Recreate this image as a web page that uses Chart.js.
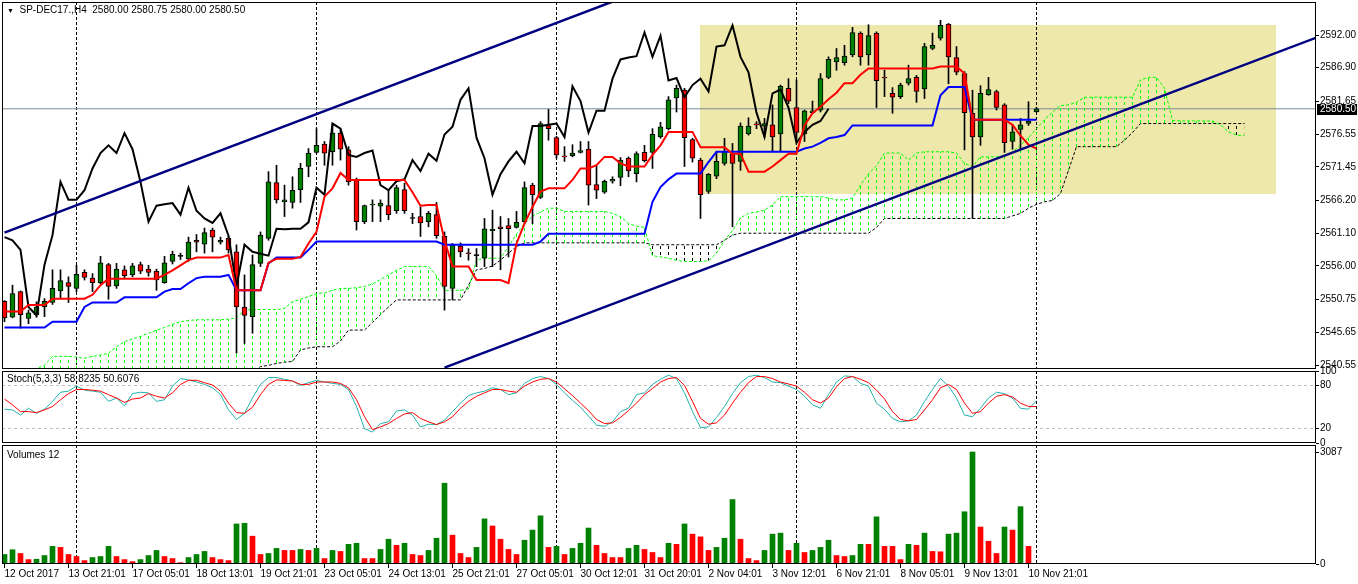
<!DOCTYPE html>
<html>
<head>
<meta charset="utf-8">
<title>SP-DEC17.,H4</title>
<script src="https://cdn.jsdelivr.net/npm/chart.js@4.4.1/dist/chart.umd.min.js"></script>
<style>
body{margin:0;background:#fff;width:1358px;height:584px;overflow:hidden;position:relative;font-family:"Liberation Sans",Arial,sans-serif}
canvas{position:absolute;left:0}
.lbl{position:absolute;font-size:10px;line-height:12px;color:#000;white-space:pre}
</style>
</head>
<body>
<canvas id="main" width="1358" height="372" style="top:0"></canvas>
<canvas id="stoch" width="1358" height="90" style="top:362px"></canvas>
<canvas id="vol" width="1358" height="144" style="top:440px"></canvas>
<div class="lbl" style="left:7px;top:3.5px"><span style="font-size:7px">&#9660;</span>  SP-DEC17.,H4  2580.00 2580.75 2580.00 2580.50</div>
<div class="lbl" style="left:7px;top:372.5px">Stoch(5,3,3) 58.8235 50.6076</div>
<div class="lbl" style="left:7px;top:449px">Volumes 12</div>
<script>
// H4 bars, 12 Oct 2017 .. 10 Nov 2017 21:01
const openP = [
  2550.5,2548.0,2552.0,2547.8,2548.4,2549.6,2550.3,2552.1,2553.4,2552.5,
  2555.0,2554.1,2553.4,2556.2,2552.9,2555.4,2554.6,2556.2,2555.5,2555.2,
  2553.4,2556.7,2557.5,2557.1,2560.0,2559.4,2561.6,2559.7,2560.3,2558.2,
  2549.6,2548.1,2556.4,2560.3,2569.0,2566.0,2565.9,2567.9,2571.5,2573.7,
  2575.0,2573.8,2576.7,2574.1,2569.4,2562.9,2565.5,2565.3,2565.4,2564.6,
  2567.9,2563.4,2563.7,2562.9,2564.0,2560.6,2552.5,2559.1,2558.0,2557.6,
  2557.2,2561.5,2562.1,2562.3,2562.0,2562.9,2568.6,2566.7,2577.9,2576.0,
  2573.1,2573.2,2573.7,2574.2,2568.7,2567.5,2569.2,2569.8,2572.8,2570.4,
  2573.7,2573.7,2576.1,2577.4,2582.2,2583.4,2575.7,2572.5,2567.6,2570.0,
  2572.0,2573.5,2572.3,2576.6,2578.1,2577.8,2578.0,2576.6,2583.7,2580.7,
  2576.6,2579.9,2580.3,2585.4,2587.8,2587.7,2588.9,2592.3,2588.9,2592.3,
  2585.4,2582.9,2582.4,2584.5,2585.4,2583.6,2589.9,2591.5,2593.7,2588.5,
  2586.0,2579.8,2576.1,2582.7,2583.2,2581.1,2575.4,2577.3,2578.2,2580.00
];
const highP = [
  2550.6,2553.0,2552.1,2549.1,2550.4,2550.9,2555.4,2555.4,2554.3,2556.1,
  2555.4,2554.8,2557.5,2556.4,2556.4,2556.0,2556.4,2556.6,2556.1,2555.5,
  2557.5,2558.3,2558.0,2560.5,2560.9,2561.9,2561.9,2560.5,2560.6,2559.3,
  2554.6,2557.7,2561.3,2570.7,2571.7,2568.6,2569.9,2572.0,2574.3,2577.4,
  2575.4,2578.2,2577.2,2574.6,2569.7,2565.5,2566.3,2566.3,2567.8,2568.6,
  2568.9,2564.2,2565.2,2564.5,2565.9,2561.3,2559.5,2559.6,2558.7,2558.7,
  2563.4,2564.7,2563.7,2563.4,2564.5,2569.1,2568.9,2578.5,2580.4,2576.2,
  2574.6,2574.9,2575.4,2575.4,2571.6,2569.4,2569.9,2572.9,2573.0,2573.8,
  2574.8,2577.4,2578.4,2582.4,2584.2,2583.7,2575.9,2572.8,2570.4,2573.8,
  2575.9,2575.1,2578.3,2579.1,2578.5,2579.0,2581.1,2584.2,2585.2,2585.0,
  2580.3,2581.7,2586.0,2588.6,2589.9,2590.4,2593.2,2592.5,2593.6,2592.5,
  2586.5,2583.8,2584.5,2587.3,2585.7,2590.7,2592.3,2594.3,2593.8,2590.2,
  2586.3,2583.4,2584.1,2585.4,2583.4,2581.3,2577.9,2579.0,2581.6,2580.75
];
const lowP = [
  2547.3,2547.9,2546.3,2547.0,2548.0,2548.1,2550.0,2550.9,2550.3,2552.0,
  2553.8,2552.0,2553.2,2550.8,2552.5,2554.0,2554.3,2554.8,2554.4,2552.2,
  2553.3,2556.3,2557.0,2556.7,2558.2,2558.0,2558.2,2559.4,2558.0,2542.4,
  2543.9,2545.5,2555.9,2560.0,2565.8,2563.7,2565.0,2565.9,2569.9,2573.6,
  2571.7,2571.7,2572.5,2568.6,2561.6,2562.6,2562.9,2562.9,2563.2,2564.2,
  2564.2,2562.6,2560.6,2562.1,2560.3,2549.1,2550.7,2557.4,2556.9,2555.9,
  2555.9,2555.9,2555.4,2557.4,2561.9,2562.6,2562.6,2566.5,2575.6,2572.8,
  2572.3,2573.0,2573.6,2565.5,2566.5,2567.3,2568.9,2568.5,2569.9,2569.1,
  2572.2,2571.2,2575.9,2577.2,2580.0,2571.5,2572.2,2563.4,2567.3,2569.6,
  2571.7,2562.1,2570.9,2576.4,2577.4,2576.1,2573.8,2573.8,2581.3,2575.4,
  2575.4,2579.8,2580.0,2585.2,2586.5,2587.3,2588.6,2587.3,2587.3,2580.7,
  2582.4,2579.8,2582.1,2584.2,2581.5,2582.1,2589.7,2591.2,2584.4,2585.8,
  2574.1,2563.4,2574.8,2582.6,2580.3,2573.7,2574.2,2574.2,2577.9,2580.00
];
const closeP = [
  2547.9,2551.7,2548.4,2548.7,2549.6,2550.5,2552.5,2553.7,2552.8,2554.7,
  2554.2,2553.4,2556.5,2552.8,2555.5,2554.5,2556.0,2555.2,2555.0,2553.8,
  2556.5,2557.8,2557.5,2559.7,2559.7,2561.2,2560.5,2560.0,2558.5,2549.6,
  2548.3,2556.2,2560.8,2569.1,2566.3,2566.3,2567.8,2571.2,2573.6,2574.8,
  2573.6,2576.7,2574.2,2569.1,2562.9,2565.4,2565.6,2565.8,2564.0,2568.2,
  2564.6,2563.4,2562.7,2564.2,2560.7,2552.8,2559.3,2558.2,2557.9,2557.6,
  2561.8,2561.7,2561.8,2561.8,2562.8,2568.2,2567.1,2578.2,2577.4,2573.3,
  2573.0,2573.6,2574.0,2568.6,2567.8,2569.2,2569.5,2572.5,2570.8,2573.5,
  2572.4,2576.5,2577.7,2581.9,2583.7,2576.0,2572.8,2567.1,2570.3,2572.3,
  2573.8,2572.0,2577.8,2577.8,2578.0,2578.2,2576.1,2584.0,2581.7,2576.8,
  2580.2,2580.2,2585.2,2588.2,2588.5,2588.7,2592.4,2588.6,2591.9,2584.9,
  2585.3,2582.3,2584.2,2585.2,2583.2,2590.2,2590.4,2593.5,2588.6,2586.2,
  2579.9,2576.1,2582.9,2583.5,2580.7,2575.2,2576.9,2578.0,2578.6,2580.50
];
const volumes = [
  262,393,290,122,131,234,486,458,262,206,
  94,178,206,486,206,122,65,122,234,374,
  206,150,37,178,262,346,178,122,94,1104,
  1122,767,262,290,430,374,374,402,374,430,
  150,374,346,542,571,150,150,402,683,514,
  571,262,234,374,711,2226,795,290,178,458,
  1244,1048,683,402,262,655,935,1328,458,486,
  262,430,571,991,514,290,178,178,430,514,
  402,318,178,571,542,1104,823,748,374,458,
  711,1777,683,150,94,374,823,851,374,571,
  318,374,458,655,234,206,234,542,542,1300,
  486,486,122,542,514,851,346,337,823,851,
  1440,3087,1019,627,290,1019,935,1581,486,19
];
// Ichimoku lines
const tenkan = [
  2548.9,2548.9,2548.9,2549.9,2549.9,2549.9,2550.9,2550.9,2550.9,2550.9,
  2550.9,2551.5,2553.0,2554.0,2554.0,2554.0,2554.0,2554.0,2554.0,2554.0,
  2554.6,2555.3,2556.1,2556.9,2557.3,2557.3,2557.3,2557.3,2557.7,2552.2,
  2552.2,2552.2,2552.2,2556.5,2557.1,2557.1,2557.1,2557.4,2559.5,2561.3,
  2566.8,2568.1,2570.5,2569.4,2569.4,2569.4,2569.4,2569.4,2569.4,2569.4,
  2569.4,2567.5,2565.4,2565.5,2565.5,2560.0,2555.9,2555.9,2555.9,2553.8,
  2553.8,2553.8,2553.8,2553.3,2559.5,2562.6,2565.2,2567.6,2568.1,2568.1,
  2568.1,2569.4,2571.2,2571.2,2571.7,2573.0,2573.0,2572.0,2571.5,2571.5,
  2571.5,2573.3,2574.8,2576.9,2576.9,2576.9,2576.9,2574.5,2574.5,2574.5,
  2574.5,2573.5,2573.5,2570.7,2570.7,2570.7,2571.5,2572.5,2573.5,2573.5,
  2577.9,2579.8,2580.8,2582.0,2583.0,2584.5,2584.5,2585.8,2586.8,2586.8,
  2586.8,2586.8,2586.8,2586.8,2586.8,2586.8,2586.8,2587.1,2587.1,2587.1,
  2586.0,2578.8,2578.8,2578.8,2578.8,2578.8,2578.0,2576.3,2574.9,2574.3
];
const kijun = [
  2546.4,2546.4,2546.4,2546.4,2546.4,2546.4,2547.3,2547.3,2547.3,2547.3,
  2549.6,2550.3,2550.3,2550.3,2550.3,2551.1,2551.1,2551.1,2551.1,2551.1,
  2552.0,2552.4,2552.4,2553.3,2554.1,2554.3,2554.3,2554.3,2554.6,2552.2,
  2552.2,2552.2,2552.2,2556.4,2557.3,2557.3,2557.3,2557.3,2558.5,2559.8,
  2559.8,2559.8,2559.8,2559.8,2559.8,2559.8,2559.8,2559.8,2559.8,2559.8,
  2559.8,2559.8,2559.8,2559.8,2559.8,2559.3,2559.3,2559.3,2559.3,2559.3,
  2559.3,2559.3,2559.3,2559.3,2559.3,2559.3,2559.3,2559.8,2561.0,2561.0,
  2561.0,2561.0,2561.0,2561.0,2561.0,2561.0,2561.0,2561.0,2561.0,2561.0,
  2561.0,2566.0,2568.3,2569.5,2570.4,2570.4,2570.4,2570.4,2572.2,2573.8,
  2573.8,2573.8,2573.8,2573.8,2573.8,2573.8,2573.8,2573.8,2573.8,2573.8,
  2574.3,2574.6,2575.2,2575.9,2576.1,2576.4,2577.9,2577.9,2577.9,2577.9,
  2577.9,2577.9,2577.9,2577.9,2577.9,2577.9,2577.9,2582.6,2583.9,2583.9,
  2583.9,2578.8,2578.8,2578.8,2578.8,2578.8,2578.8,2578.8,2578.8,2578.8
];
// Senkou spans, shifted 26 bars ahead (156 points)
const spanA = [
  2539.0,2539.2,2539.5,2539.8,2540.0,2540.5,2541.9,2541.9,2541.9,2541.8,
  2541.6,2541.9,2542.1,2542.4,2543.4,2544.2,2544.6,2545.0,2545.5,2546.0,
  2546.4,2546.9,2547.3,2547.5,2547.6,2547.6,2547.6,2547.6,2547.7,2547.9,
  2549.1,2549.2,2549.2,2549.2,2549.2,2549.4,2550.4,2550.8,2551.2,2551.7,
  2551.8,2552.2,2552.5,2552.5,2552.6,2552.8,2553.2,2553.9,2554.6,2555.3,
  2555.9,2555.9,2555.9,2555.9,2554.5,2552.2,2552.2,2552.2,2552.4,2556.9,
  2557.2,2557.2,2557.2,2559.0,2561.0,2562.6,2563.8,2564.4,2565.0,2565.0,
  2564.5,2564.5,2564.5,2564.5,2564.5,2564.5,2564.2,2563.7,2562.6,2562.2,
  2562.0,2557.6,2557.4,2557.2,2556.9,2556.7,2556.7,2556.7,2556.8,2558.0,
  2560.0,2561.5,2563.5,2564.2,2564.4,2564.7,2565.5,2566.8,2566.8,2566.8,
  2566.8,2566.8,2566.8,2566.6,2566.3,2566.3,2566.6,2568.6,2570.4,2571.6,
  2573.6,2573.6,2573.6,2572.5,2573.6,2573.8,2573.8,2573.8,2573.8,2573.6,
  2572.0,2571.5,2573.0,2573.0,2573.0,2573.2,2573.8,2574.8,2576.0,2577.4,
  2578.8,2580.0,2581.0,2581.1,2581.5,2582.3,2582.3,2582.3,2582.3,2582.3,
  2582.3,2582.3,2585.0,2585.4,2585.4,2583.7,2578.7,2578.6,2578.6,2578.6,
  2578.6,2578.6,2578.0,2576.9,2576.4,2576.3
];
const spanB = [
  2536.0,2536.0,2536.0,2536.0,2536.0,2536.0,2536.0,2536.0,2536.0,2536.0,
  2536.0,2537.0,2537.0,2537.0,2537.0,2537.0,2537.0,2537.0,2537.0,2537.0,
  2537.0,2538.5,2538.5,2538.5,2538.5,2538.5,2538.5,2538.5,2538.5,2539.5,
  2539.5,2539.5,2540.3,2540.5,2540.8,2541.0,2541.1,2542.9,2543.2,2543.4,
  2543.4,2543.4,2544.3,2546.0,2546.0,2546.0,2547.2,2548.4,2549.6,2550.7,
  2550.7,2550.7,2550.7,2550.7,2550.7,2550.7,2550.7,2550.7,2553.0,2555.4,
  2555.6,2556.0,2556.9,2558.0,2559.0,2559.6,2559.6,2559.6,2559.6,2559.6,
  2559.6,2559.6,2559.6,2559.6,2559.6,2559.6,2559.6,2559.6,2559.6,2559.6,
  2559.6,2559.3,2559.3,2559.3,2559.3,2559.3,2559.3,2559.3,2559.3,2559.3,
  2560.0,2560.8,2561.1,2561.1,2561.1,2561.1,2561.1,2561.1,2561.1,2561.1,
  2561.1,2561.1,2561.1,2561.1,2561.1,2561.1,2561.1,2561.1,2561.1,2562.0,
  2563.4,2563.4,2563.4,2563.4,2563.4,2563.4,2563.4,2563.4,2563.4,2563.4,
  2563.4,2563.4,2563.4,2563.4,2563.4,2563.4,2563.8,2564.2,2565.0,2565.6,
  2566.0,2566.2,2567.3,2570.9,2574.6,2574.6,2574.6,2574.6,2574.6,2574.6,
  2575.6,2576.8,2578.2,2578.2,2578.2,2578.2,2578.2,2578.2,2578.2,2578.2,
  2578.2,2578.2,2578.2,2578.2,2578.2,2578.2
];
// Stochastic (5,3,3)
const stochK = [
  46.9,46.0,38.8,48.3,41.2,46.9,57.8,70.5,72.0,79.0,
  73.4,72.0,70.5,57.8,62.5,51.6,68.6,70.5,69.6,57.8,
  60.1,79.0,89.5,87.6,84.7,81.4,76.7,67.2,46.0,32.7,
  41.2,62.5,81.4,90.9,90.9,88.5,86.1,80.0,83.8,87.1,
  84.7,82.8,81.4,74.3,50.7,19.9,15.2,27.0,29.4,44.5,
  46.0,38.8,22.3,26.1,25.6,31.8,43.6,55.4,65.8,69.6,
  72.0,76.7,74.3,67.2,69.6,82.8,89.5,92.3,89.5,81.4,
  69.6,59.2,49.7,37.4,24.7,23.2,29.4,43.6,48.3,67.2,
  69.6,81.4,88.5,94.2,89.5,69.6,43.6,21.3,22.3,35.5,
  50.7,68.6,83.8,92.3,94.2,90.9,84.7,83.8,79.0,74.3,
  64.9,53.0,48.3,67.2,84.7,93.2,92.3,82.8,79.0,55.4,
  46.9,34.1,29.4,30.8,38.8,57.8,74.3,89.5,79.0,62.5,
  38.8,36.5,48.3,62.5,70.5,68.6,62.5,48.3,46.9,58.8235
];
const stochD = [
  61.1,53.0,43.6,43.6,42.2,46.0,50.7,60.1,68.6,74.3,
  74.3,73.4,72.0,67.2,62.5,56.3,61.1,62.5,68.6,64.9,
  62.5,69.6,81.4,87.1,87.1,83.8,80.5,72.0,55.4,42.2,
  41.2,49.7,67.2,81.4,87.6,87.0,86.1,81.4,81.4,84.7,
  84.7,84.7,82.8,76.7,60.1,36.5,18.5,22.3,27.0,34.1,
  40.3,42.2,34.1,29.4,25.6,29.4,36.5,48.3,57.8,64.9,
  69.6,74.3,74.3,72.0,70.5,79.0,84.7,88.5,89.5,84.7,
  75.3,65.8,55.4,45.0,32.7,27.0,28.0,35.5,45.0,55.4,
  67.2,75.7,84.7,89.5,90.9,80.0,57.8,34.1,26.1,28.0,
  38.8,55.4,70.5,83.8,92.3,92.3,89.5,84.7,82.0,79.0,
  70.5,60.1,55.4,62.5,78.1,89.5,92.3,88.5,83.8,73.4,
  61.1,43.6,32.7,30.8,32.7,46.0,60.1,76.7,81.4,74.3,
  55.4,41.2,43.6,55.4,64.9,67.2,63.9,55.4,50.7,50.6076
];
const priceTicks = [2592.00,2586.90,2581.65,2576.55,2571.45,2566.20,2561.10,2556.00,2550.75,2545.65,2540.55];
const stochTicks = [0, 20, 80, 100];
const stochLevels = [20, 80];
const volTicks = [0, 3087];
const timeIdx = [0,8,16,24,32,40,48,56,64,72,80,88,96,104,112,120,128];
const timeLabels = ['12 Oct 2017','13 Oct 21:01','17 Oct 05:01','18 Oct 13:01','19 Oct 21:01','23 Oct 05:01',
  '24 Oct 13:01','25 Oct 21:01','27 Oct 05:01','30 Oct 12:01','31 Oct 20:01','2 Nov 04:01','3 Nov 12:01',
  '6 Nov 21:01','8 Nov 05:01','9 Nov 13:01','10 Nov 21:01'];
const gridIdx = [9, 39, 69, 99, 129];
// drawn objects: channel lines (bar, price) and the rectangle
const trendUpper = [[0, 2561.2], [80, 2599.1]];
const trendLower = [[55, 2540.15], [164, 2591.6]];
const boxIdx = [86.875, 158.875];
const boxPrice = [2567.2, 2593.56];

const lastClose = closeP[closeP.length - 1];
const chikou = closeP.slice(26);

const UP = '#008000', DN = '#ff0000';
const X_MIN = -0.3125, X_MAX = 163.9375;
const FONT = '"Liberation Sans", Arial, sans-serif';

Chart.defaults.font.family = FONT;
Chart.defaults.font.size = 10;
Chart.defaults.color = '#000';
Chart.defaults.animation = false;

const pts = arr => arr.map((v, i) => ({x: i, y: v}));
const pair = arr => arr.map(p => ({x: p[0], y: p[1]}));

function hatch(ctx, color) {
  const c = document.createElement('canvas');
  c.width = 8; c.height = 6;
  const g = c.getContext('2d');
  g.fillStyle = color;
  g.fillRect(4, 0, 1, 3);
  return ctx.createPattern(c, 'repeat');
}

const frame = {
  id: 'frame',
  afterDraw(chart) {
    const {ctx, chartArea: a} = chart;
    ctx.save();
    ctx.strokeStyle = '#000';
    ctx.lineWidth = 1;
    ctx.strokeRect(a.left + 0.5, a.top + 0.5, a.right - a.left - 1, a.bottom - a.top - 1);
    ctx.restore();
  }
};

const boxPlugin = {
  id: 'box',
  beforeDraw(chart) {
    const {ctx, chartArea: a, scales: {x, y}} = chart;
    const x0 = x.getPixelForValue(boxIdx[0]), x1 = x.getPixelForValue(boxIdx[1]);
    const y0 = y.getPixelForValue(boxPrice[1]), y1 = y.getPixelForValue(boxPrice[0]);
    ctx.save();
    ctx.beginPath();
    ctx.rect(a.left, a.top, a.right - a.left, a.bottom - a.top);
    ctx.clip();
    ctx.fillStyle = '#eee8aa';
    ctx.fillRect(Math.round(x0), Math.round(y0), Math.round(x1 - x0), Math.round(y1 - y0));
    ctx.restore();
  }
};

const priceTag = {
  id: 'priceTag',
  afterDraw(chart) {
    const {ctx, chartArea: a, scales: {y}} = chart;
    const py = Math.round(y.getPixelForValue(lastClose));
    ctx.save();
    ctx.fillStyle = '#000';
    ctx.fillRect(a.right + 1, py - 5, 40, 11);
    ctx.fillStyle = '#fff';
    ctx.font = '10px ' + FONT;
    ctx.textBaseline = 'middle';
    ctx.fillText(lastClose.toFixed(2), a.right + 4, py + 0.5);
    ctx.restore();
  }
};

function gridX() {
  return {
    type: 'linear', min: X_MIN, max: X_MAX, offset: false, bounds: 'data',
    afterBuildTicks: s => { s.ticks = gridIdx.map(v => ({value: v})); },
    ticks: {display: false},
    grid: {color: '#000', lineWidth: 1, drawTicks: false, offset: false},
    border: {display: false, dash: [3, 2]},
    afterFit: s => { s.height = 0; s.paddingLeft = 0; s.paddingRight = 0; }
  };
}

const baseOpts = {
  responsive: false,
  maintainAspectRatio: false,
  events: [],
  plugins: {legend: {display: false}, tooltip: {enabled: false}},
  elements: {point: {radius: 0}, line: {tension: 0}}
};

// ---------- main price panel ----------
const mainCtx = document.getElementById('main').getContext('2d');
const hatchUp = hatch(mainCtx, '#00ff00');
const hatchDn = hatch(mainCtx, '#000000');

new Chart(mainCtx, {
  type: 'bar',
  data: {
    datasets: [
      {type: 'line', data: [{x: X_MIN, y: lastClose}, {x: X_MAX, y: lastClose}],
        borderColor: '#7a8a99', borderWidth: 1, order: 8},
      {type: 'line', data: pts(spanA), borderColor: '#00ff00', borderWidth: 1, borderDash: [3, 2],
        fill: {target: '+1', above: hatchUp, below: hatchDn}, order: 7},
      {type: 'line', data: pts(spanB), borderColor: '#000', borderWidth: 1, borderDash: [3, 2], order: 7},
      {type: 'bar', data: lowP.map((l, i) => ({x: i, y: [l, highP[i]]})), backgroundColor: '#000',
        barThickness: 1, grouped: false, order: 6},
      {type: 'bar', data: openP.map((o, i) => ({x: i, y: [o, closeP[i]]})),
        backgroundColor: c => closeP[c.dataIndex] > openP[c.dataIndex] ? UP
          : (closeP[c.dataIndex] < openP[c.dataIndex] ? DN : '#000'),
        borderColor: '#000', borderWidth: 1, borderSkipped: false,
        barThickness: 5, minBarLength: 1, grouped: false, order: 5},
      {type: 'line', data: pts(kijun), borderColor: '#0000ff', borderWidth: 2, order: 4},
      {type: 'line', data: pts(tenkan), borderColor: '#ff0000', borderWidth: 2, order: 3},
      {type: 'line', data: pts(chikou), borderColor: '#000', borderWidth: 2, order: 3},
      {type: 'line', data: pair(trendUpper), borderColor: '#000080', borderWidth: 2.5, order: 1},
      {type: 'line', data: pair(trendLower), borderColor: '#000080', borderWidth: 2.5, order: 1}
    ]
  },
  options: Object.assign({}, baseOpts, {
    layout: {padding: {left: 2, right: 0, top: 2, bottom: 3}},
    scales: {
      x: gridX(),
      y: {
        type: 'linear', position: 'right', min: 2539.93, max: 2597.15, bounds: 'data',
        afterBuildTicks: s => { s.ticks = priceTicks.map(v => ({value: v})); },
        ticks: {callback: v => v.toFixed(2), padding: 1, autoSkip: false},
        grid: {drawOnChartArea: false, drawTicks: true, tickLength: 3, color: '#000'},
        border: {display: false},
        afterFit: s => { s.width = 42; s.paddingTop = 0; s.paddingBottom = 0; }
      }
    }
  }),
  plugins: [boxPlugin, frame, priceTag]
});

// ---------- stochastic panel ----------
new Chart(document.getElementById('stoch'), {
  type: 'line',
  data: {
    datasets: [
      {data: pts(stochK), borderColor: '#20b2aa', borderWidth: 1, order: 2},
      {data: pts(stochD), borderColor: '#ff0000', borderWidth: 1, order: 1}
    ]
  },
  options: Object.assign({}, baseOpts, {
    layout: {padding: {left: 2, right: 0, top: 9, bottom: 9}},
    scales: {
      x: gridX(),
      y: {
        type: 'linear', position: 'right', min: 0, max: 100, bounds: 'data',
        afterBuildTicks: s => { s.ticks = stochTicks.map(v => ({value: v})); },
        ticks: {callback: v => String(v), padding: 1, autoSkip: false},
        grid: {
          drawOnChartArea: true, drawTicks: true, tickLength: 3, tickColor: '#000',
          color: c => (c.tick && stochLevels.includes(c.tick.value)) ? '#c0c0c0' : 'rgba(0,0,0,0)'
        },
        border: {display: false, dash: [3, 3]},
        afterFit: s => { s.width = 42; s.paddingTop = 0; s.paddingBottom = 0; }
      }
    }
  }),
  plugins: [frame]
});

// ---------- volume panel ----------
new Chart(document.getElementById('vol'), {
  type: 'bar',
  data: {
    datasets: [{
      data: pts(volumes),
      backgroundColor: c => (c.dataIndex === 0 || volumes[c.dataIndex] > volumes[c.dataIndex - 1]) ? UP : DN,
      barThickness: 5, grouped: false
    }]
  },
  options: Object.assign({}, baseOpts, {
    layout: {padding: {left: 2, right: 0, top: 5, bottom: 0}},
    scales: {
      x: {
        type: 'linear', min: X_MIN, max: X_MAX, offset: false, bounds: 'data',
        afterBuildTicks: s => { s.ticks = timeIdx.map(v => ({value: v})); },
        ticks: {callback: (v, k) => timeLabels[k], align: 'start', maxRotation: 0, autoSkip: false, padding: 0},
        grid: {drawOnChartArea: false, tickLength: 4, color: '#000', offset: false},
        border: {display: false},
        afterFit: s => { s.height = 20; s.paddingLeft = 0; s.paddingRight = 0; }
      },
      xg: gridX(),
      y: {
        type: 'linear', position: 'right', min: 0, max: 3280, bounds: 'data',
        afterBuildTicks: s => { s.ticks = volTicks.map(v => ({value: v})); },
        ticks: {callback: v => String(v), padding: 1, autoSkip: false},
        grid: {drawOnChartArea: false, drawTicks: true, tickLength: 3, color: '#000'},
        border: {display: false},
        afterFit: s => { s.width = 42; s.paddingTop = 0; s.paddingBottom = 0; }
      }
    }
  }),
  plugins: [frame]
});
</script>
</body>
</html>
